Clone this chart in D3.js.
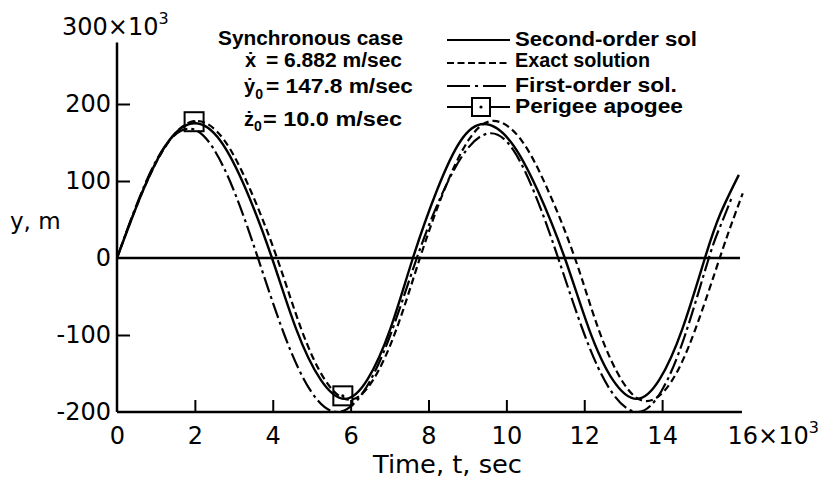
<!DOCTYPE html>
<html>
<head>
<meta charset="utf-8">
<script src="https://cdn.jsdelivr.net/npm/d3@7"></script>
<style>
  body { margin: 0; background: #fff; }
  svg { display: block; }
</style>
</head>
<body>
<svg id="chart" width="821" height="485"></svg>
<script>
// Time t in 10^3 sec, displacement y in m

// Second-order solution
const tSecond = [0, 0.67, 1.33, 2.0, 2.66, 3.32, 3.98, 4.6, 5.23, 5.85, 6.43, 7.02, 7.6, 8.21, 8.81, 9.42, 10.11, 10.81, 11.5, 12.12, 12.73, 13.35, 13.93, 14.52, 15.1, 15.5, 15.97];
const ySecond = [0, 88, 152, 175, 152, 88, 0, -92, -158, -183, -158, -92, 0, 87, 151, 174, 151, 87, 0, -92, -158, -183, -158, -92, 0, 58, 108];

// Exact solution
const tExact = [0, 0.68, 1.37, 2.05, 2.74, 3.42, 4.11, 4.73, 5.35, 5.97, 6.57, 7.18, 7.78, 8.41, 9.04, 9.67, 10.37, 11.06, 11.76, 12.37, 12.99, 13.6, 14.23, 14.85, 15.48, 15.78, 16.07];
const yExact = [0, 89, 154, 178, 154, 89, 0, -92, -159, -184, -159, -92, 0, 89, 154, 178, 154, 89, 0, -93, -161, -186, -161, -93, 0, 44, 84];

// First-order solution
const tFirst = [0, 0.62, 1.23, 1.85, 2.44, 3.03, 3.62, 4.3, 4.98, 5.66, 6.34, 7.02, 7.7, 8.33, 8.97, 9.6, 10.18, 10.75, 11.33, 12.01, 12.69, 13.37, 13.98, 14.59, 15.2, 15.5, 15.8];
const yFirst = [0, 84, 145, 168, 145, 84, 0, -100, -173, -200, -173, -100, 0, 81, 140, 162, 140, 81, 0, -100, -173, -200, -173, -100, 0, 42, 80];

// Perigee / apogee points
const tMarker = [1.98, 5.8];
const yMarker = [177, -179];

// Axis ticks
const xTicks = [0, 2, 4, 6, 8, 10, 12, 14, 16];
const yTicks = [-200, -100, 0, 100, 200];

// Legend labels
const seriesNames = ["Second-order sol", "Exact solution", "First-order sol.", "Perigee apogee"];
const caseTitle = "Synchronous case";
const xDotValue = "= 6.882 m/sec";
const yDotValue = "= 147.8 m/sec";
const zDotValue = "= 10.0 m/sec";

const svg = d3.select("#chart");
const x = d3.scaleLinear().domain([0, 16]).range([117, 740]);
const y = d3.scaleLinear().domain([-200, 200]).range([412, 104]);

const tickFont = "'DejaVu Sans', sans-serif";
const legendFont = "'Liberation Sans', Arial, sans-serif";

// Axes
const gx = svg.append("g").attr("transform", `translate(0,${y(-200)})`)
  .call(d3.axisBottom(x).tickValues(xTicks).tickSize(-12).tickPadding(15)
    .tickFormat(d => String(d)));
const gy = svg.append("g").attr("transform", `translate(${x(0)},0)`)
  .call(d3.axisLeft(y).tickValues(yTicks).tickSize(-13).tickPadding(6)
    .tickFormat(d => String(d)));

[gx, gy].forEach(g => {
  g.select(".domain").remove();
  g.selectAll(".tick line").attr("stroke", "#000").attr("stroke-width", 2);
  g.selectAll(".tick text").attr("font-family", tickFont).attr("font-size", 24).attr("fill", "#000");
});
gx.selectAll(".tick").filter(d => d === 0 || d === 16).select("line").remove();
gy.selectAll(".tick").filter(d => d === 0 || d === -200).select("line").remove();

// "16×10³" at the end of the time axis
const lastLabel = gx.selectAll(".tick").filter(d => d === 16).select("text");
lastLabel.text(null).attr("text-anchor", "start").attr("x", -13);
lastLabel.append("tspan").text("16×10");
lastLabel.append("tspan").text("3").attr("font-size", 16).attr("dy", -11);

// "300×10³" above the y axis
const topLabel = svg.append("text").attr("x", 62).attr("y", y(300) + 8)
  .attr("font-family", tickFont).attr("font-size", 24).attr("fill", "#000");
topLabel.append("tspan").text("300×10");
topLabel.append("tspan").text("3").attr("font-size", 16).attr("dy", -11);

// Axis lines
svg.append("line").attr("x1", x(0)).attr("x2", x(0)).attr("y1", y(-200)).attr("y2", y(280))
  .attr("stroke", "#000").attr("stroke-width", 2.5);
svg.append("line").attr("x1", x(0)).attr("x2", x(16.05)).attr("y1", y(-200)).attr("y2", y(-200))
  .attr("stroke", "#000").attr("stroke-width", 2.5);
// Zero reference line
svg.append("line").attr("x1", x(0)).attr("x2", x(16)).attr("y1", y(0)).attr("y2", y(0))
  .attr("stroke", "#000").attr("stroke-width", 2.5);

// Axis titles
svg.append("text").attr("x", 10).attr("y", 229).text("y, m")
  .attr("font-family", tickFont).attr("font-size", 23).attr("fill", "#000");
svg.append("text").attr("x", 373).attr("y", 473).text("Time, t, sec")
  .attr("font-family", tickFont).attr("font-size", 24).attr("fill", "#000")
  .attr("textLength", 149).attr("lengthAdjust", "spacingAndGlyphs");

// Curves
const line = d3.line().x(d => x(d[0])).y(d => y(d[1])).curve(d3.curveNatural);
const zip = (ts, ys) => ts.map((t, i) => [t, ys[i]]);

svg.append("path").datum(zip(tExact, yExact)).attr("d", line)
  .attr("fill", "none").attr("stroke", "#000").attr("stroke-width", 2.2)
  .attr("stroke-dasharray", "7,4");
svg.append("path").datum(zip(tFirst, yFirst)).attr("d", line)
  .attr("fill", "none").attr("stroke", "#000").attr("stroke-width", 2.2)
  .attr("stroke-dasharray", "16,4,3,4");
svg.append("path").datum(zip(tSecond, ySecond)).attr("d", line)
  .attr("fill", "none").attr("stroke", "#000").attr("stroke-width", 2.4);

// Perigee / apogee squares
function square(g, cx, cy, s) {
  g.append("rect").attr("x", cx - s / 2).attr("y", cy - s / 2).attr("width", s).attr("height", s)
    .attr("fill", "none").attr("stroke", "#000").attr("stroke-width", 2);
  g.append("circle").attr("cx", cx).attr("cy", cy).attr("r", 1.6).attr("fill", "#000");
}
const markers = svg.append("g");
tMarker.forEach((t, i) => square(markers, x(t), y(yMarker[i]), 19));

// Legend: case parameters
const leg = svg.append("g").attr("font-family", legendFont).attr("font-weight", "bold")
  .attr("font-size", 20).attr("fill", "#000");
leg.append("text").attr("x", 218).attr("y", 45).text(caseTitle)
  .attr("textLength", 185).attr("lengthAdjust", "spacingAndGlyphs");

leg.append("text").attr("x", 245).attr("y", 67).text("ẋ");
leg.append("text").attr("x", 266).attr("y", 67).text(xDotValue)
  .attr("textLength", 136).attr("lengthAdjust", "spacingAndGlyphs");

// dotted symbols with subscript zero kept inside one text element
const ySym = leg.append("text").attr("x", 244).attr("y", 93);
ySym.append("tspan").text("ẏ");
ySym.append("tspan").text("0").attr("font-size", 14).attr("dy", 6);
leg.append("text").attr("x", 266).attr("y", 93).text(yDotValue)
  .attr("textLength", 147).attr("lengthAdjust", "spacingAndGlyphs");

const zSym = leg.append("text").attr("x", 244).attr("y", 126);
zSym.append("tspan").text("ż");
zSym.append("tspan").text("0").attr("font-size", 14).attr("dy", 5);
leg.append("text").attr("x", 263).attr("y", 126).text(zDotValue)
  .attr("textLength", 139).attr("lengthAdjust", "spacingAndGlyphs");

// Legend: line styles
const legendRows = [
  { y: 40, base: 46, dash: null, len: 182 },
  { y: 63, base: 67, dash: "7,3.5", len: 135 },
  { y: 86, base: 92, dash: "23,5,3,5", len: 162 },
  { y: 107, base: 113, dash: null, len: 168 }
];
legendRows.forEach((r, i) => {
  leg.append("line").attr("x1", 447).attr("x2", 510).attr("y1", r.y).attr("y2", r.y)
    .attr("stroke", "#000").attr("stroke-width", 2.2)
    .attr("stroke-dasharray", r.dash);
  leg.append("text").attr("x", 515).attr("y", r.base).text(seriesNames[i])
    .attr("textLength", r.len).attr("lengthAdjust", "spacingAndGlyphs");
});
// square symbol on the perigee/apogee legend line
const legSq = leg.append("g");
legSq.append("rect").attr("x", 472).attr("y", 98).attr("width", 18).attr("height", 18)
  .attr("fill", "#fff").attr("stroke", "#000").attr("stroke-width", 2);
legSq.append("circle").attr("cx", 481).attr("cy", 107).attr("r", 1.6).attr("fill", "#000");
</script>
</body>
</html>
